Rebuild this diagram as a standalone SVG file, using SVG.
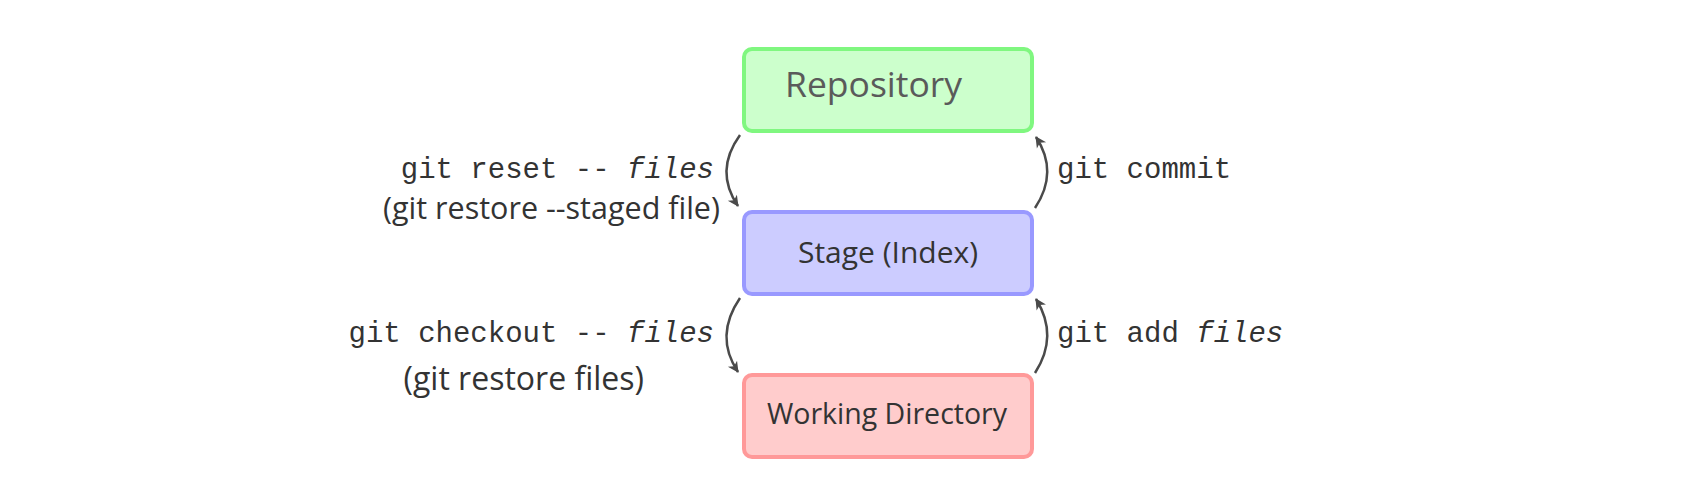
<svg xmlns="http://www.w3.org/2000/svg" width="1705" height="495" viewBox="0 0 1705 495">
<style>
.box{stroke-width:4}
.mono{font-family:"Liberation Mono","DejaVu Sans Mono",monospace;font-size:29px;fill:#333}
.it{font-style:italic}
.sans{font-family:"Open Sans","Noto Sans",sans-serif;fill:#333}
.conn{fill:none;stroke:#4a4a4a;stroke-width:2.5}
</style>
<defs>
<marker id="ah" markerWidth="14" markerHeight="14" viewBox="0 0 14 14" refX="11" refY="7" orient="auto" markerUnits="userSpaceOnUse">
<path d="M1,1.5 L12,7 L1,12.5 L4,7 Z" fill="#4a4a4a"/>
</marker>
</defs>
<rect width="1705" height="495" fill="#ffffff"/>
<g id="repository">
<rect class="box" x="744" y="49" width="288" height="82" rx="8" fill="#ccffcc" stroke="#80f780"/>
<text class="sans" x="785" y="97" font-size="35.5" style="fill:#5a5a5a">Repository</text>
</g>
<g id="stage">
<rect class="box" x="744" y="212" width="288" height="82" rx="8" fill="#ccccff" stroke="#9999ff"/>
<text class="sans" x="888" y="263" font-size="30" text-anchor="middle">Stage (Index)</text>
</g>
<g id="working">
<rect class="box" x="744" y="375" width="288" height="82" rx="8" fill="#ffcccc" stroke="#ff9999"/>
<text class="sans" x="887" y="424" font-size="28.5" text-anchor="middle">Working Directory</text>
</g>
<g id="connectors">
<path class="conn" d="M740,135 Q714,171 738,206" marker-end="url(#ah)"/>
<path class="conn" d="M1035,208 Q1059,172 1036,137" marker-end="url(#ah)"/>
<path class="conn" d="M740,298 Q714,336 738,372" marker-end="url(#ah)"/>
<path class="conn" d="M1035,373 Q1059,336 1036,299" marker-end="url(#ah)"/>
</g>
<g id="labels">
<text class="mono" x="714" y="178" text-anchor="end">git reset -- <tspan class="it">files</tspan></text>
<text class="sans" x="720" y="219" font-size="30.5" text-anchor="end">(git restore --staged file)</text>
<text class="mono" x="714" y="342" text-anchor="end">git checkout -- <tspan class="it">files</tspan></text>
<text class="sans" x="644" y="390" font-size="32" text-anchor="end">(git restore files)</text>
<text class="mono" x="1057" y="178">git commit</text>
<text class="mono" x="1057" y="342">git add <tspan class="it">files</tspan></text>
</g>
</svg>
